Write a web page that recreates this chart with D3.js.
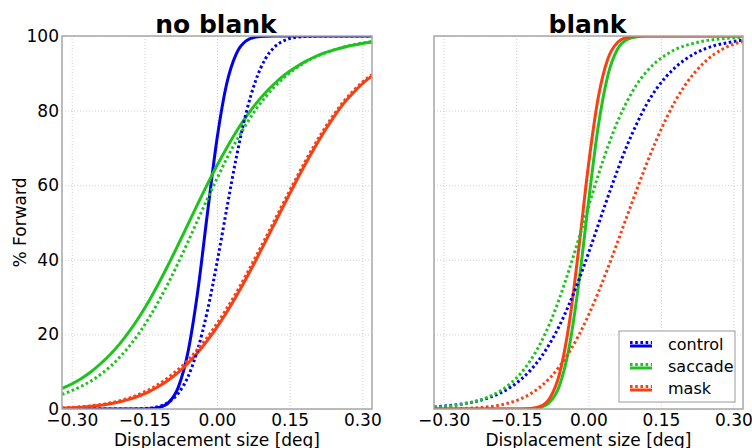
<!DOCTYPE html>
<html>
<head>
<meta charset="utf-8">
<script src="https://cdn.jsdelivr.net/npm/d3@7"></script>
<style>
  body { margin: 0; background: #fff; }
  svg text { font-family: "DejaVu Sans", sans-serif; fill: #000; }
</style>
</head>
<body>
<svg id="chart"></svg>
<script>
// displacement samples (deg), shared by every curve
var disp = [-0.32, -0.30, -0.28, -0.26, -0.24, -0.22, -0.20, -0.18, -0.16, -0.14, -0.12,
  -0.10, -0.08, -0.06, -0.04, -0.02, 0.00, 0.02, 0.04, 0.06, 0.08, 0.10, 0.12,
  0.14, 0.16, 0.18, 0.20, 0.22, 0.24, 0.26, 0.28, 0.30, 0.32]

// "no blank" panel, % forward
var ctrlNoBlankSolid = [0, 0, 0, 0, 0, 0, 0, 0, 0, 0.07, 0.4, 1.7, 5.8, 15.2, 31.3, 52.2, 72.4,
  87.2, 95.3, 98.7, 99.7, 99.95, 100, 100, 100, 100, 100, 100, 100, 100, 100, 100, 100]
var ctrlNoBlankDot = [0, 0, 0, 0, 0, 0, 0, 0, 0.07, 0.24, 0.7, 1.8, 4.2, 8.6, 15.9, 26.2, 39.2,
  53.6, 67.5, 79.3, 88.1, 93.9, 97.2, 98.85, 99.6, 99.87, 99.96, 100, 100, 100, 100, 100, 100]
var sacNoBlankSolid = [5.5, 6.7, 8.2, 10.0, 12.2, 14.7, 17.6, 21.0, 24.8, 29.1, 33.8, 38.8, 44.1,
  49.5, 54.9, 60.2, 65.3, 70.0, 74.4, 78.3, 81.8, 84.8, 87.4, 89.6, 91.4, 93.0, 94.3, 95.4,
  96.2, 96.9, 97.5, 98.0, 98.4]
var sacNoBlankDot = [3.9, 4.9, 6.1, 7.5, 9.3, 11.4, 14.0, 17.0, 20.5, 24.5, 29.0, 33.9, 39.2,
  44.8, 50.6, 56.3, 61.8, 67.1, 71.9, 76.3, 80.3, 83.6, 86.6, 89.0, 91.1, 92.8, 94.2, 95.3,
  96.2, 97.0, 97.6, 98.1, 98.5]
var maskNoBlankSolid = [0.23, 0.34, 0.49, 0.71, 1.01, 1.41, 1.95, 2.65, 3.55, 4.68, 6.08, 7.79,
  9.85, 12.28, 15.10, 18.33, 21.95, 25.94, 30.29, 34.94, 39.82, 44.87, 50.0, 55.13, 60.18,
  65.06, 69.71, 74.06, 78.05, 81.67, 84.6, 87.2, 89.3]
var maskNoBlankDot = [0.3, 0.4, 0.6, 0.85, 1.2, 1.65, 2.25, 3.0, 4.0, 5.2, 6.7, 8.5, 10.6, 13.1,
  16.0, 19.2, 22.9, 26.9, 31.2, 35.9, 40.8, 45.8, 50.9, 56.0, 61.0, 65.9, 70.5, 74.8, 78.7,
  82.2, 85.1, 87.6, 89.6]

// "blank" panel, % forward
var ctrlBlankDot = [0.56, 0.76, 1.02, 1.38, 1.85, 2.49, 3.34, 4.47, 5.96, 7.91, 10.42, 13.6,
  17.6, 22.4, 28.1, 34.6, 41.8, 49.3, 56.8, 64.0, 70.7, 76.5, 81.6, 85.7, 89.0, 91.6, 93.7,
  95.3, 96.5, 97.4, 98.0, 98.5, 98.9]
var sacBlankSolid = [0, 0, 0, 0, 0, 0, 0, 0, 0, 0.01, 0.07, 0.41, 1.86, 6.33, 16.55, 33.8, 55.5,
  75.6, 89.4, 96.45, 99.09, 99.82, 99.97, 100, 100, 100, 100, 100, 100, 100, 100, 100, 100]
var sacBlankDot = [0.47, 0.67, 0.94, 1.33, 1.86, 2.60, 3.64, 5.06, 7.00, 9.61, 13.05, 17.48,
  23.0, 29.7, 37.4, 45.7, 54.3, 62.6, 70.3, 77.0, 82.5, 87.0, 90.4, 93.0, 94.9, 96.4, 97.4,
  98.1, 98.7, 99.06, 99.33, 99.5, 99.66]
var maskBlankSolid = [0, 0, 0, 0, 0, 0, 0, 0, 0, 0.02, 0.12, 0.70, 2.97, 9.44, 22.9, 43.2, 65.5,
  83.4, 93.86, 98.27, 99.64, 99.94, 100, 100, 100, 100, 100, 100, 100, 100, 100, 100, 100]
var maskBlankDot = [0.02, 0.04, 0.08, 0.14, 0.25, 0.42, 0.70, 1.14, 1.80, 2.74, 4.08, 5.90,
  8.32, 11.41, 15.22, 19.82, 25.14, 31.17, 37.73, 44.67, 51.78, 58.8, 65.6, 71.9, 77.6, 82.6,
  86.8, 90.2, 92.96, 95.07, 96.64, 97.77, 98.56]

var xTicks = [-0.30, -0.15, 0.00, 0.15, 0.30]
var yTicks = [0, 20, 40, 60, 80, 100]
var conditions = ["control", "saccade", "mask"]

var width = 752
var height = 448
var plotTop = 36, plotBottom = 409
var colors = {control: "#0000ee", saccade: "#1ec41e", mask: "#fa4012"}

var svg = d3.select("#chart")
    .attr("width", width)
    .attr("height", height)

var panels = [
  {title: "no blank", left: 62, right: 372, yLabels: true,
   lines: [
     {cond: "control", dotted: false, vals: ctrlNoBlankSolid},
     {cond: "saccade", dotted: false, vals: sacNoBlankSolid},
     {cond: "mask", dotted: false, vals: maskNoBlankSolid},
     {cond: "control", dotted: true, vals: ctrlNoBlankDot},
     {cond: "saccade", dotted: true, vals: sacNoBlankDot},
     {cond: "mask", dotted: true, vals: maskNoBlankDot}]},
  {title: "blank", left: 434, right: 743, yLabels: false,
   lines: [
     {cond: "saccade", dotted: false, vals: sacBlankSolid},
     {cond: "mask", dotted: false, vals: maskBlankSolid},
     {cond: "control", dotted: true, vals: ctrlBlankDot},
     {cond: "saccade", dotted: true, vals: sacBlankDot},
     {cond: "mask", dotted: true, vals: maskBlankDot}]}
]

var y = d3.scaleLinear().domain([0, 100]).range([plotBottom, plotTop])

panels.forEach(function(p, i) {
  var x = d3.scaleLinear().domain([-0.32, 0.32]).range([p.left, p.right])
  var g = svg.append("g")

  g.append("clipPath").attr("id", "clip" + i)
    .append("rect")
    .attr("x", p.left).attr("y", plotTop)
    .attr("width", p.right - p.left).attr("height", plotBottom - plotTop)

  // x axis + vertical grid
  var xa = g.append("g")
    .attr("transform", "translate(0," + plotBottom + ")")
    .call(d3.axisBottom(x).tickValues(xTicks).tickFormat(d3.format(".2f"))
      .tickSize(-(plotBottom - plotTop)).tickPadding(5))
  // y axis + horizontal grid
  var ya = g.append("g")
    .attr("transform", "translate(" + p.left + ",0)")
    .call(d3.axisLeft(y).tickValues(yTicks)
      .tickFormat(p.yLabels ? d3.format("d") : "")
      .tickSize(-(p.right - p.left)).tickPadding(3))

  ;[xa, ya].forEach(function(a) {
    a.select(".domain").remove()
    a.selectAll(".tick line")
      .attr("stroke", "#cfcfcf")
      .attr("stroke-dasharray", "1,2")
    a.selectAll(".tick text")
      .style("font-size", "17px")
      .attr("fill", "#000")
  })

  var line = d3.line()
    .x(function(d, j) { return x(disp[j]) })
    .y(function(d) { return y(d) })
    .curve(d3.curveMonotoneX)

  g.append("g").attr("clip-path", "url(#clip" + i + ")")
    .selectAll("path")
    .data(p.lines)
    .enter()
    .append("path")
    .attr("d", function(d) { return line(d.vals) })
    .attr("fill", "none")
    .attr("stroke", function(d) { return colors[d.cond] })
    .attr("stroke-width", 3)
    .attr("stroke-dasharray", function(d) { return d.dotted ? "2.6,2.6" : null })

  // frame
  g.append("rect")
    .attr("x", p.left).attr("y", plotTop)
    .attr("width", p.right - p.left).attr("height", plotBottom - plotTop)
    .attr("fill", "none")
    .attr("stroke", "#a6a6a6")
    .attr("stroke-width", 1.5)

  g.append("text")
    .attr("x", (p.left + p.right) / 2 - 1).attr("y", 33)
    .attr("text-anchor", "middle")
    .style("font-size", "25px").style("font-weight", "bold")
    .text(p.title)

  g.append("text")
    .attr("x", (p.left + p.right) / 2).attr("y", 446)
    .attr("text-anchor", "middle")
    .style("font-size", "17px")
    .text("Displacement size [deg]")
})

svg.append("text")
  .attr("transform", "translate(26," + (plotTop + plotBottom) / 2 + ") rotate(-90)")
  .attr("text-anchor", "middle")
  .style("font-size", "17px")
  .text("% Forward")

// legend
var leg = svg.append("g")
leg.append("rect")
  .attr("x", 619).attr("y", 331).attr("width", 116).attr("height", 71)
  .attr("fill", "#fff").attr("stroke", "#9a9a9a").attr("stroke-width", 1)

var item = leg.selectAll(".item")
  .data(conditions)
  .enter()
  .append("g")
  .attr("transform", function(d, i) { return "translate(0," + (344 + i * 22) + ")" })

item.append("line")
  .attr("x1", 630).attr("x2", 652).attr("y1", 2).attr("y2", 2)
  .attr("stroke", function(d) { return colors[d] }).attr("stroke-width", 3)
item.append("line")
  .attr("x1", 630).attr("x2", 652).attr("y1", -1.5).attr("y2", -1.5)
  .attr("stroke", function(d) { return colors[d] }).attr("stroke-width", 3)
  .attr("stroke-dasharray", "2.6,2.6")
item.append("text")
  .attr("x", 668).attr("y", 0)
  .attr("dy", "0.35em")
  .style("font-size", "16px")
  .text(function(d) { return d })
</script>
</body>
</html>
